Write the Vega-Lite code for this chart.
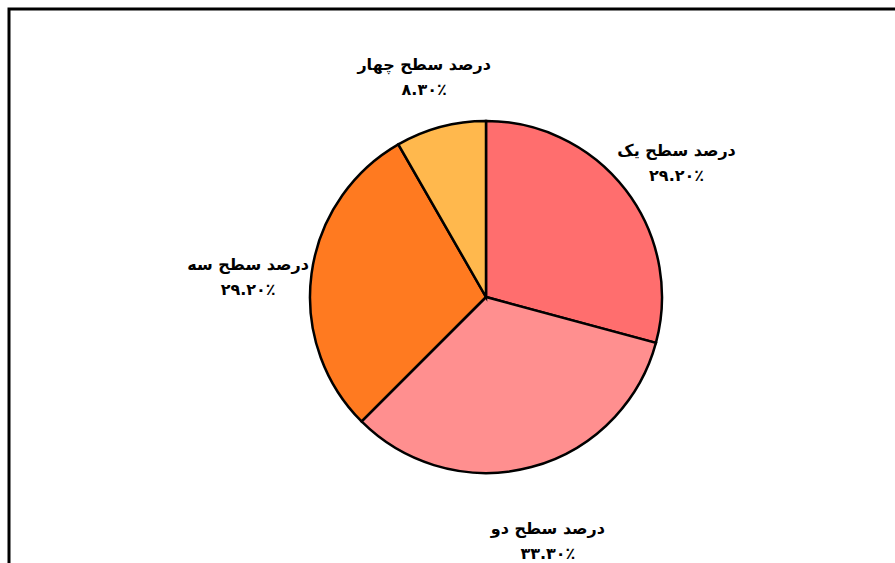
{
  "$schema": "https://vega.github.io/schema/vega-lite/v6.json",
  "width": 895,
  "height": 563,
  "autosize": {"type": "fit", "contains": "padding"},
  "padding": {"left": 9, "top": 9, "right": -68, "bottom": -22},
  "background": "white",
  "view": {"stroke": "black", "strokeWidth": 3, "fill": "white"},
  "data": {
    "values": [
      {"category": "درصد سطح یک", "value": 29.2, "lines": ["درصد سطح یک", "۲۹.۲۰٪"], "order": 1},
      {"category": "درصد سطح دو", "value": 33.3, "lines": ["درصد سطح دو", "۳۳.۳۰٪"], "order": 2},
      {"category": "درصد سطح سه", "value": 29.2, "lines": ["درصد سطح سه", "۲۹.۲۰٪"], "order": 3},
      {"category": "درصد سطح چهار", "value": 8.3, "lines": ["درصد سطح چهار", "۸.۳۰٪"], "order": 4}
    ]
  },
  "encoding": {
    "theta": {"field": "value", "type": "quantitative", "stack": true},
    "order": {"field": "order", "type": "quantitative"}
  },
  "layer": [
    {
      "mark": {"type": "arc", "radius": 176, "stroke": "black", "strokeWidth": 2.5},
      "encoding": {
        "color": {
          "field": "category",
          "type": "nominal",
          "scale": {
            "domain": ["درصد سطح یک", "درصد سطح دو", "درصد سطح سه", "درصد سطح چهار"],
            "range": ["#ff6e6e", "#ff8f8f", "#ff7a20", "#ffb84d"]
          },
          "legend": null
        }
      }
    },
    {
      "mark": {"type": "text", "radius": 240, "font": "DejaVu Sans", "fontWeight": "bold", "fontSize": 16, "lineHeight": 25, "color": "black"},
      "encoding": {"text": {"field": "lines"}}
    }
  ]
}
